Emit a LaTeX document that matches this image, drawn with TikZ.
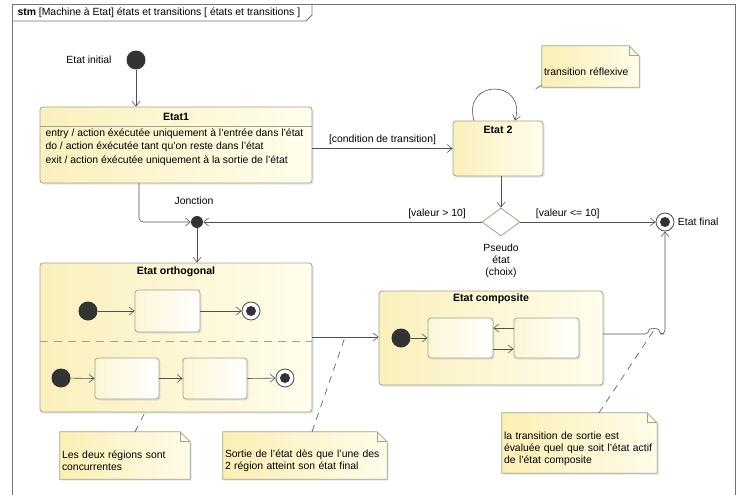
\documentclass[tikz,border=0pt]{standalone}
\usepackage{fontspec}
\setmainfont{Liberation Sans}
\usepackage{tikz}
\usetikzlibrary{positioning}
\usetikzlibrary{arrows.meta}
\usetikzlibrary{shapes.geometric}
\usetikzlibrary{shadows}
\usetikzlibrary{backgrounds}
\usepackage{xcolor}

\definecolor{stateyel}{HTML}{FAF0BC}
\definecolor{statelight}{HTML}{FFFDEC}
\definecolor{subyel}{HTML}{FCF6D6}
\definecolor{noteyel}{HTML}{FBEFB4}
\definecolor{notelight}{HTML}{FFFCEA}
\definecolor{umlline}{HTML}{A3A38A}
\definecolor{inkgray}{HTML}{505050}

\tikzset{
  uml/.style={draw=umlline, line width=0.8pt},
  state/.style={uml, rounded corners=3pt, left color=stateyel, right color=statelight, inner sep=0pt,
    drop shadow={shadow xshift=1.5pt, shadow yshift=-1.5pt, fill=black!20}},
  substate/.style={state, left color=subyel, right color=white},
  trans/.style={draw=inkgray, line width=0.6pt, -{Straight Barb[length=5pt,width=8pt]}},
  startdot/.style={circle, fill=black!80, minimum size=19pt, inner sep=0pt},
  enddot/.style={circle, draw=black!70, line width=0.8pt, fill=white, minimum size=18pt, inner sep=0pt,
    path picture={\fill[black!80] (path picture bounding box.center) circle (5pt);}},
  lbl/.style={font=\fontsize{10.4}{12}\selectfont},
  title/.style={font=\fontsize{10.6}{12}\selectfont\bfseries},
  notetext/.style={lbl, align=left, inner sep=2pt, execute at begin node={\rule{0pt}{19pt}}},
  noteline/.style={draw=inkgray, line width=0.6pt, dash pattern=on 7pt off 6pt},
}

% folded note outline, drawn behind the note text
\newcommand{\notefold}[1]{%
  \begin{scope}[on background layer]
    \draw[uml, left color=noteyel, right color=notelight,
      drop shadow={shadow xshift=1.5pt, shadow yshift=-1.5pt, fill=black!20}]
      (#1.north west) -- ([xshift=-10pt]#1.north east) -- ([yshift=-10pt]#1.north east)
      -- (#1.south east) -- (#1.south west) -- cycle;
    \draw[uml] ([xshift=-10pt]#1.north east) |- ([yshift=-10pt]#1.north east);
  \end{scope}}

\begin{document}
\begin{tikzpicture}[x=1pt, y=-1pt]
        \useasboundingbox (0,0) rectangle (740,495);
        % frame
        \draw[draw=black!55, line width=0.8pt] (12,495) -- (12,4) -- (735,4) -- (735,495);
        \draw[draw=black!55, line width=0.8pt] (12,21) -- (306,21) -- (312,15) -- (312,4);
        \node[lbl, anchor=west] (header) at (14,12.5) {\textbf{stm} [Machine à Etat] états et transitions [ états et transitions ]};

        % nodes
        \node[startdot] (init) at (136,60) {};
        \node[lbl] (initlbl) at (89,60) {Etat initial};
        \node[state, minimum width=272, minimum height=76] (etat1) at (176,145) {};
        \node[title] (etat1title) at (176,117) {Etat1};
        \draw[uml] (etat1.west |- 0,126) -- (etat1.east |- 0,126);
        \node[lbl, align=left, anchor=west, font=\fontsize{10.4}{13.5}\selectfont] (etat1body) at (42,147)
          {entry / action éxécutée uniquement à l'entrée dans l'état\\do / action éxécutée tant qu'on reste dans l'état\\exit / action éxécutée uniquement à la sortie de l'état};
        \node[state, minimum width=90, minimum height=55] (etat2) at (498,148.5) {};
        \node[title] (etat2title) at (498,130) {Etat 2};
        \node[diamond, uml, fill=white, minimum width=38, minimum height=28, inner sep=0pt] (choix) at (501,222) {};
        \node[lbl, align=center, below=4pt of choix] (choixlbl) {Pseudo\\état\\(choix)};
        \node[enddot] (final) at (665,222) {};
        \node[lbl, right=0pt of final] (finallbl) {Etat final};
        \node[circle, fill=black!80, minimum size=12pt, inner sep=0pt] (jonction) at (197,222) {};
        \node[lbl] (jonctionlbl) at (194,201) {Jonction};

        % etat orthogonal
        \node[state, minimum width=272, minimum height=149] (orth) at (176,337.5) {};
        \node[title] (orthtitle) at (176,272) {Etat orthogonal};
        \draw[uml, dash pattern=on 8pt off 6pt] (orth.west |- 0,341) -- (orth.east |- 0,341);
        \node[startdot] (ini1) at (88,311) {};
        \node[substate, minimum width=65, minimum height=42] (reg1a) at (167.5,311) {};
        \node[enddot] (fin1) at (251,311) {};
        \node[startdot] (ini2) at (61,378) {};
        \node[substate, minimum width=64, minimum height=41] (reg2a) at (127,378.5) {};
        \node[substate, minimum width=64, minimum height=41] (reg2b) at (215,378.5) {};
        \node[enddot] (fin2) at (285,378) {};

        % etat composite
        \node[state, minimum width=224, minimum height=94] (comp) at (491,338) {};
        \node[title] (comptitle) at (491,299) {Etat composite};
        \node[startdot] (ini3) at (401,338) {};
        \node[substate, minimum width=65, minimum height=40] (compA) at (460.5,338) {};
        \node[substate, minimum width=65, minimum height=40] (compB) at (546.5,338) {};

        % notes
        \node[notetext, text width=93, minimum height=41] (notereflex) at (590.5,66.5) {transition réflexive};
        \notefold{notereflex}
        \node[notetext, text width=126, minimum height=47] (noteregions) at (125,455.5) {Les deux régions sont\\concurrentes};
        \notefold{noteregions}
        \node[notetext, text width=160, minimum height=47] (notesortie) at (305,455.5) {Sortie de l'état dès que l'une des\\2 région atteint son état final};
        \notefold{notesortie}
        \node[notetext, text width=151, minimum height=60] (notecomp) at (579.5,443) {la transition de sortie est\\évaluée quel que soit l'état actif\\de l'état composite};
        \notefold{notecomp}

        \coordinate (loopref) at (532,91);
        \coordinate (sortieref) at (345,337);
        \coordinate (hopref) at (656,327);
        \coordinate (hopA) at (649,334);
        \coordinate (hopB) at (659,334);

        % arrows
        \draw[trans] (init) -- (etat1.north -| init);
        \draw[trans] (etat1.east |- etat2.west) -- node[lbl, above]{[condition de transition]} (etat2.west);
        \draw[trans] ([xshift=-24pt]etat2.north) .. controls +(-12,-42) and +(12,-42) .. ([xshift=17pt]etat2.north);
        \draw[trans] (etat2.south -| choix.north) -- (choix.north);
        \draw[trans] (choix.east) -- node[lbl, above, pos=0.35]{[valeur <= 10]} (final.west);
        \draw[trans] (choix.west) -- node[lbl, above, pos=0.16]{[valeur > 10]} (jonction.east);
        \draw[trans, rounded corners=4pt] ([xshift=-37pt]etat1.south) |- (jonction.west);
        \draw[trans] (jonction) -- (jonction |- orth.north);
        \draw[trans] (ini1) -- (reg1a.west);
        \draw[trans] (reg1a.east) -- (fin1);
        \draw[trans] (ini2) -- (reg2a.west);
        \draw[trans] (reg2a.east) -- (reg2b.west);
        \draw[trans] (reg2b.east) -- (fin2);
        \draw[trans] (orth.east |- 0,337) -- (comp.west |- 0,337);
        \draw[trans] (ini3) -- (compA.west);
        \draw[trans] ([yshift=10pt]compB.west) -- ([yshift=10pt]compA.east);
        \draw[trans] ([yshift=-11pt]compA.east) -- ([yshift=-11pt]compB.west);
        \draw[trans, rounded corners=4pt] (comp.east |- hopA) -- (hopA)
          .. controls ([yshift=6pt]hopA) and ([yshift=6pt]hopB) .. (hopB) -| (final.south);

        % note links
        \draw[noteline] ([yshift=2pt]notereflex.south west) -- (loopref);
        \draw[noteline] ([xshift=10pt]noteregions.north) -- ([xshift=-31pt]orth.south);
        \draw[noteline] ([xshift=7pt]notesortie.north) -- (sortieref);
        \draw[noteline] ([xshift=19.5pt]notecomp.north) -- (hopref);
    \end{tikzpicture}
\end{document}
